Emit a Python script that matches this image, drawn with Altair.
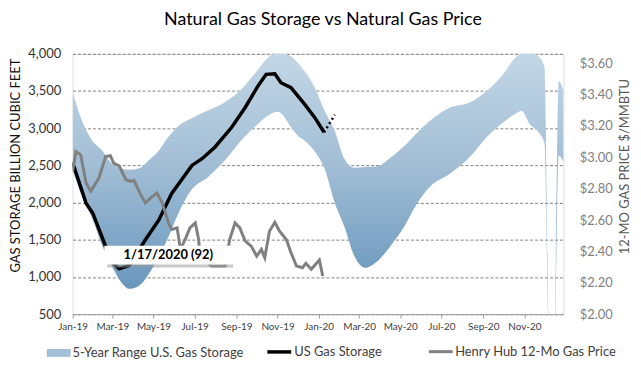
import altair as alt
import pandas as pd

# ---------------- data ----------------
band_dates = [
    "2019-01-01", "2019-01-15", "2019-01-30", "2019-02-14", "2019-02-28", "2019-03-15",
    "2019-03-26", "2019-04-09", "2019-04-24", "2019-05-09", "2019-05-19", "2019-06-07",
    "2019-06-26", "2019-07-21", "2019-08-15", "2019-09-08", "2019-10-03", "2019-10-18",
    "2019-11-02", "2019-11-21", "2019-12-01", "2019-12-11", "2019-12-26", "2020-01-10",
    "2020-01-25", "2020-02-08", "2020-02-23", "2020-03-10", "2020-03-28", "2020-04-16",
    "2020-05-07", "2020-05-26", "2020-06-14", "2020-07-14", "2020-08-12", "2020-09-06",
    "2020-10-01", "2020-10-20", "2020-10-28", "2020-11-09", "2020-11-24", "2020-12-01",
    "2020-12-08", "2020-12-15", "2020-12-22", "2020-12-29",
]
band_upper = [
    3480, 3100, 2835, 2700, 2524, 2457, 2440, 2457, 2568, 2700, 2835, 3030,
    3130, 3240, 3350, 3520, 3790, 3950, 4012, 3968, 3880, 3768, 3550, 3230,
    2960, 2590, 2470, 2480, 2490, 2600, 2760, 2940, 3101, 3279, 3346, 3500,
    3730, 3960, 4000, 4030, 3946, 3812, 0, 0, 3635, 3502,
]
band_lower = [
    2430, 2080, 1790, 1420, 1150, 920, 840, 878, 1040, 1280, 1456, 1857,
    2168, 2345, 2568, 2835, 3057, 3170, 3220, 3012, 2900, 2835, 2690, 2450,
    1990, 1678, 1278, 1123, 1211, 1411, 1678, 1990, 2212, 2390, 2612, 2879,
    3079, 3200, 3235, 3057, 2924, 2790, 0, 0, 2634, 2545,
]

storage_dates = [
    "2019-01-01", "2019-01-21", "2019-01-31", "2019-02-19", "2019-02-24", "2019-03-11",
    "2019-03-26", "2019-04-19", "2019-05-09", "2019-05-28", "2019-06-27", "2019-07-12",
    "2019-07-31", "2019-08-25", "2019-09-14", "2019-10-03", "2019-10-15", "2019-10-28",
    "2019-11-06", "2019-11-21", "2019-12-11", "2019-12-26", "2020-01-09",
]
storage_values = [
    2540, 1990, 1857, 1411, 1234, 1110, 1154, 1500, 1767, 2123, 2500, 2590,
    2745, 3012, 3279, 3568, 3724, 3732, 3612, 3545, 3324, 3145, 2945,
]

projection_dates = ["2020-01-09", "2020-01-25"]
projection_values = [2945, 3181]

price_dates = [
    "2019-01-01", "2019-01-06", "2019-01-13", "2019-01-21", "2019-01-28", "2019-02-09",
    "2019-02-19", "2019-02-26", "2019-03-03", "2019-03-11", "2019-03-21", "2019-03-28",
    "2019-04-02", "2019-04-12", "2019-04-19", "2019-04-27", "2019-05-06", "2019-05-14",
    "2019-05-24", "2019-05-28", "2019-06-05", "2019-06-10", "2019-06-17", "2019-06-24",
    "2019-07-02", "2019-07-07", "2019-07-09", "2019-07-26", "2019-08-15", "2019-08-22",
    "2019-08-30", "2019-09-06", "2019-09-14", "2019-09-23", "2019-10-01", "2019-10-08",
    "2019-10-13", "2019-10-20", "2019-10-28", "2019-11-04", "2019-11-14", "2019-11-21",
    "2019-11-29", "2019-12-08", "2019-12-13", "2019-12-21", "2020-01-02", "2020-01-07",
]
price_values = [
    2.91, 3.037, 3.016, 2.836, 2.783, 2.868, 3.005, 3.01, 2.963, 2.946, 2.857, 2.846,
    2.853, 2.762, 2.709, 2.741, 2.773, 2.709, 2.572, 2.540, 2.55, 2.413, 2.476, 2.55,
    2.582, 2.476, 2.37, 2.307, 2.307, 2.476, 2.582, 2.55, 2.466, 2.434, 2.37, 2.413,
    2.36, 2.529, 2.586, 2.529, 2.476, 2.392, 2.307, 2.296, 2.324, 2.286, 2.345, 2.243,
]

band_name = "5-Year Range U.S. Gas Storage"
line_names = ["US Gas Storage", "Henry Hub 12-Mo Gas Price"]
band_color = "#a4c0d8"
line_colors = ["#000000", "#808080"]
line_widths = [3.5, 3]

x_tick_dates = ["2019-01-01", "2019-03-01", "2019-05-01", "2019-07-01", "2019-09-01", "2019-11-01",
                "2020-01-01", "2020-03-01", "2020-05-01", "2020-07-01", "2020-09-01", "2020-11-01"]
x_domain = ["2019-01-01", "2020-12-29"]
storage_ticks = [500, 1000, 1500, 2000, 2500, 3000, 3500, 4000]
price_ticks = [2.0, 2.2, 2.4, 2.6, 2.8, 3.0, 3.2, 3.4, 3.6]

annotation_text = "1/17/2020  (92)"
annotation_dates = ["2019-02-17", "2019-08-27", "2019-05-23"]
annotation_prices = [2.317, 2.437, 2.377]

# ---------------- frames ----------------
def ms(d):
    return int(pd.Timestamp(d, tz="UTC").value // 10**6)

band_df = pd.DataFrame({"date": band_dates, "upper": band_upper, "lower": band_lower})
band_key_df = pd.DataFrame({"date": [band_dates[0]], "upper": [band_upper[0]], "series": [band_name]})
storage_df = pd.DataFrame({"date": storage_dates, "storage": storage_values, "series": line_names[0]})
proj_df = pd.DataFrame({"date": projection_dates, "storage": projection_values})
price_df = pd.DataFrame({"date": price_dates, "price": price_values, "series": line_names[1]})
ann_df = pd.DataFrame({
    "d1": [annotation_dates[0]], "d2": [annotation_dates[1]], "dc": [annotation_dates[2]],
    "p1": [annotation_prices[0]], "p2": [annotation_prices[1]], "pc": [annotation_prices[2]],
    "label": [annotation_text],
})

FONT = "Lato"

x_scale = alt.Scale(type="utc", domain=[ms(d) for d in x_domain], nice=False)
x_axis = alt.Axis(values=[ms(d) for d in x_tick_dates], labelExpr="utcFormat(datum.value, '%b-%y')",
                  title=None, grid=False, labelFlush=False, labelFont=FONT, labelFontSize=10,
                  labelColor="#404040", domainColor="#a0a0a0", tickColor="#a0a0a0", tickSize=4,
                  labelPadding=3)
X = alt.X("date:T", scale=x_scale, axis=x_axis)

left_scale = alt.Scale(domain=[500, 4000], nice=False, zero=False)
left_axis = alt.Axis(title="GAS STORAGE BILLION CUBIC FEET", values=storage_ticks, format=",d",
                     grid=True, gridDash=[3, 2], gridColor="#808080", domain=False, ticks=False,
                     labelFont=FONT, labelFontSize=13, labelColor="#333333", labelPadding=12,
                     titleFont=FONT, titleFontSize=13, titleFontWeight="normal", titleColor="#111111",
                     titleX=-57, titleY=112, titleAngle=270, titleAlign="center", titleBaseline="middle")

right_scale = alt.Scale(domain=[2.0, 3.66], nice=False, zero=False)
right_axis = alt.Axis(orient="right", title="12-MO GAS PRICE $/MMBTU", values=price_ticks, format="$.2f",
                      grid=False, domain=False, ticks=False,
                      labelFont=FONT, labelFontSize=13, labelColor="#808080", labelPadding=16,
                      titleFont=FONT, titleFontSize=13, titleFontWeight="normal", titleColor="#595959",
                      titleX=61, titleY=113, titleAngle=270, titleAlign="center", titleBaseline="middle")

band_legend = alt.Legend(title=None, orient="none", legendX=-26, legendY=289, direction="horizontal",
                         symbolType="M-1,-0.33H1V0.33H-1Z", symbolSize=576, symbolOpacity=1,
                         symbolStrokeWidth=0, labelFont=FONT, labelFontSize=13, labelColor="#404040",
                         labelOffset=2, labelLimit=400)
line_legend = alt.Legend(title=None, orient="none", legendX=194, legendY=286, direction="horizontal",
                         symbolType="stroke", symbolSize=576, labelFont=FONT, labelFontSize=13,
                         labelColor="#404040", columnPadding=40, labelOffset=1, labelLimit=400)
color_enc = alt.Color("series:N", scale=alt.Scale(domain=line_names, range=line_colors), legend=line_legend)
width_enc = alt.StrokeWidth("series:N", scale=alt.Scale(type="ordinal", domain=line_names, range=line_widths),
                            legend=line_legend)

gradient = alt.Gradient(
    gradient="linear", x1=0, x2=0, y1=0, y2=1,
    stops=[alt.GradientStop(color="#c3d7e6", offset=0.0),
           alt.GradientStop(color="#a2bed5", offset=0.38),
           alt.GradientStop(color="#6796bc", offset=0.8),
           alt.GradientStop(color="#5d8fb7", offset=1.0)],
)

band = alt.Chart(band_df).mark_area(clip=True, color=gradient, interpolate="monotone").encode(
    x=X,
    y=alt.Y("upper:Q", scale=left_scale, axis=left_axis),
    y2="lower:Q",
)
band_key = alt.Chart(band_key_df).mark_square(opacity=0, size=1).encode(
    x=X,
    y=alt.Y("upper:Q", scale=left_scale, axis=left_axis),
    fill=alt.Fill("series:N", scale=alt.Scale(domain=[band_name], range=[band_color]), legend=band_legend),
)
storage_line = alt.Chart(storage_df).mark_line(clip=True).encode(
    x=X, y=alt.Y("storage:Q", scale=left_scale, axis=left_axis),
    color=color_enc, strokeWidth=width_enc,
)
proj_line = alt.Chart(proj_df).mark_line(clip=True, color="#000000", strokeWidth=2.5, strokeDash=[2, 3]).encode(
    x=X, y=alt.Y("storage:Q", scale=left_scale, axis=left_axis),
)
left = alt.layer(band, band_key, storage_line, proj_line)

price_line = alt.Chart(price_df).mark_line(clip=True).encode(
    x=X, y=alt.Y("price:Q", scale=right_scale, axis=right_axis),
    color=color_enc, strokeWidth=width_enc,
)
ann_shadow = alt.Chart(ann_df).mark_rect(color="#9a9a9a", opacity=0.55, xOffset=3, yOffset=3).encode(
    x=alt.X("d1:T", scale=x_scale, axis=x_axis), x2="d2:T",
    y=alt.Y("p1:Q", scale=right_scale, axis=right_axis), y2="p2:Q",
)
ann_box = alt.Chart(ann_df).mark_rect(color="#ffffff").encode(
    x=alt.X("d1:T", scale=x_scale, axis=x_axis), x2="d2:T",
    y=alt.Y("p1:Q", scale=right_scale, axis=right_axis), y2="p2:Q",
)
ann_text = alt.Chart(ann_df).mark_text(font=FONT, fontSize=13, fontWeight="bold", color="#000000").encode(
    x=alt.X("dc:T", scale=x_scale, axis=x_axis),
    y=alt.Y("pc:Q", scale=right_scale, axis=right_axis),
    text="label:N",
)
right = alt.layer(price_line, ann_shadow, ann_box, ann_text)

chart = alt.layer(left, right).resolve_scale(y="independent").properties(
    width=494,
    height=262,
    autosize=alt.AutoSizeParams(type="none"),
    padding={"left": 65, "top": 45, "right": 70, "bottom": 44},
    title=alt.TitleParams("Natural Gas Storage vs Natural Gas Price", font=FONT, fontSize=18,
                          fontWeight="normal", color="#000000", anchor="middle", offset=19, dx=5),
).configure_view(stroke=None).configure(background="white")

chart.save("out.html", embed_options={"renderer": "svg", "actions": False})
